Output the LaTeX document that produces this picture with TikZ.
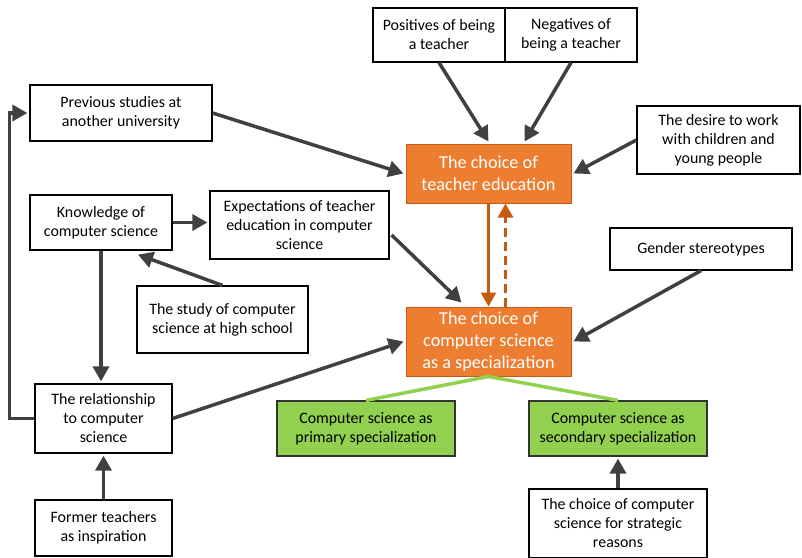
\documentclass[tikz,border=0pt]{standalone}
\usepackage{fontspec}
\setmainfont{Carlito}
\usetikzlibrary{arrows.meta,calc}
\definecolor{arrgray}{HTML}{404040}
\definecolor{orfill}{HTML}{ED7D31}
\definecolor{ordraw}{HTML}{C55A11}
\definecolor{grfill}{HTML}{92D050}
\tikzset{
  bx/.style={draw=black, line width=1.2pt, fill=white, inner sep=0pt, align=center,
    font=\fontsize{15.9}{19}\selectfont},
  obx/.style={draw=ordraw, line width=1pt, fill=orfill, text=white, inner sep=0pt, align=center,
    font=\fontsize{18.2}{22}\selectfont},
  gbx/.style={draw=black!80, line width=1.2pt, fill=grfill, inner sep=0pt, align=center,
    font=\fontsize{15.9}{19}\selectfont},
  arr/.style={draw=arrgray, line width=3.5pt, -{Triangle[length=15pt,width=16pt]}},
  oarr/.style={draw=ordraw, line width=3pt, -{Triangle[length=14pt,width=15pt]}},
  glink/.style={draw=grfill, line width=3.5pt},
}
\begin{document}
\begin{tikzpicture}[x=1pt,y=-1pt]
\useasboundingbox (0,0) rectangle (802,557);
% boxes: center positions, sizes
\node[bx, minimum width=132pt, minimum height=54pt] (pos) at (439,35) {Positives of being\\a teacher};
\node[bx, minimum width=132pt, minimum height=54pt] (neg) at (571,35) {Negatives of\\being a teacher};
\node[bx, minimum width=182pt, minimum height=56pt] (prev) at (121,113) {Previous studies at\\another university};
\node[bx, minimum width=163pt, minimum height=68pt] (des) at (718.5,140) {The desire to work\\with children and\\young people};
\node[obx, minimum width=165pt, minimum height=59pt] (ct) at (488.5,173.5) {The choice of\\teacher education};
\node[bx, minimum width=142pt, minimum height=55pt] (kn) at (101,222.5) {Knowledge of\\computer science};
\node[bx, minimum width=179pt, minimum height=68pt] (exp) at (299.5,225) {Expectations of teacher\\education in computer\\science};
\node[bx, minimum width=182pt, minimum height=42pt] (gen) at (701,249) {Gender stereotypes};
\node[bx, minimum width=171pt, minimum height=67pt] (hs) at (222.5,319.5) {The study of computer\\science at high school};
\node[obx, minimum width=165pt, minimum height=69pt] (ccs) at (488.5,341.5) {The choice of\\computer science\\as a specialization};
\node[bx, minimum width=137pt, minimum height=69pt] (rel) at (103.5,418.5) {The relationship\\to computer\\science};
\node[gbx, minimum width=178pt, minimum height=55pt] (pri) at (366,428.5) {Computer science as\\primary specialization};
\node[gbx, minimum width=178pt, minimum height=55pt] (sec) at (618,428.5) {Computer science as\\secondary specialization};
\node[bx, minimum width=137pt, minimum height=56pt] (for) at (103.5,528) {Former teachers\\as inspiration};
\node[bx, minimum width=178pt, minimum height=69pt] (str) at (618,523.5) {The choice of computer\\science for strategic\\reasons};
% connectors
\draw[arr] (pos.south) -- ($(ct.north)+(0,-2)$);
\draw[arr] (neg.south) -- ($(ct.north)+(36,-2)$);
\draw[arr] (prev.east) -- ($(ct.west)+(-2,0)$);
\draw[arr] (des.west) -- ($(ct.east)+(2,0)$);
\draw[arr] (kn.east) -- ($(kn.east -| exp.west)+(-2,0)$);
\draw[arr] ($(exp.east)+(2,10)$) -- ($(ccs.north west)+(56,-4)$);
\draw[arr] (hs.north) -- ($(kn.south)+(37,4)$);
\draw[arr] (kn.south) -- ($(kn.south |- rel.north)+(0,-2)$);
\draw[arr] (rel.west) -- ($(rel.west)+(-25,0)$) |- ($(prev.west)+(-2,0)$);
\draw[arr] (rel.east) -- ($(ccs.west)+(-2,0)$);
\draw[arr] (for.north) -- ($(rel.south)+(0,2)$);
\draw[arr] (gen.south) -- ($(ccs.east)+(2,0)$);
\draw[arr] (str.north) -- ($(sec.south)+(0,2)$);
\draw[oarr] (ct.south) -- (ccs.north);
\draw[oarr, dashed, dash pattern=on 9pt off 5pt] ($(ccs.north)+(17,0)$) -- ($(ct.south)+(17,0)$);
\draw[glink] (ccs.south) -- (pri.north);
\draw[glink] (ccs.south) -- (sec.north);
\end{tikzpicture}
\end{document}
